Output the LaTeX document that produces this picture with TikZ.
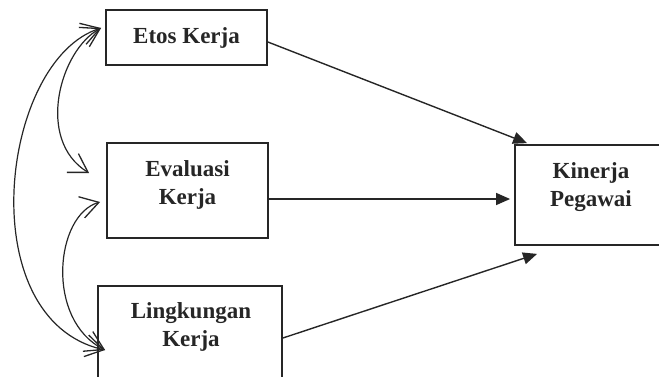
\documentclass[tikz,border=0pt]{standalone}
\usepackage{fontspec}
\setmainfont{Liberation Serif}
\usetikzlibrary{arrows.meta,calc}
\definecolor{linec}{HTML}{262626}
\tikzset{
  box/.style={draw=linec, line width=1.8pt, rectangle, inner sep=0pt},
  txt/.style={align=center, inner sep=0pt, font=\bfseries\fontsize{23}{27.6}\selectfont, text=linec},
  arr/.style={draw=linec, line width=1.4pt, -{Triangle[length=14pt,width=12pt]}},
  cov/.style={draw=linec, line width=1.2pt, {Straight Barb[length=18pt,width=22pt,line width=1.3pt]}-{Straight Barb[length=18pt,width=22pt,line width=1.3pt]}}
}
\begin{document}
\begin{tikzpicture}[x=1pt,y=-1pt]
\useasboundingbox (0,0) rectangle (659,376);
\clip (0,0) rectangle (659,376);
% boxes
\node[box, minimum width=161pt, minimum height=55pt] (etos) at (186.5,37.5) {};
\node[txt] (etost) at (186.5,38) {Etos Kerja};
\node[box, minimum width=161pt, minimum height=95pt] (eva) at (187.5,190.5) {};
\node[txt] (evat) at (187.5,185) {Evaluasi\\Kerja};
\node[box, minimum width=184pt, minimum height=120pt] (ling) at (190,346) {};
\node[txt] (lingt) at (191,327) {Lingkungan\\Kerja};
\node[box, minimum width=152pt, minimum height=100pt] (kin) at (591,195) {};
\node[txt] (kint) at (591,187) {Kinerja\\Pegawai};
% connector end points
\coordinate (e1) at ($(etos.west)+(-4,-9.5)$);
\coordinate (v1) at ($(eva.west)+(-17,-17.5)$);
\coordinate (v2) at ($(eva.west)+(-6,11.5)$);
\coordinate (l1) at ($(ling.west)+(8,4)$);
\coordinate (a1) at ($(etos.east)+(0,4.5)$);
\coordinate (a2) at ($(kin.north west)+(13,-1)$);
\coordinate (b1) at ($(eva.east)+(0,8.5)$);
\coordinate (b2) at ($(kin.west)+(-4,4)$);
\coordinate (c1) at ($(ling.east)+(0,-8)$);
\coordinate (c2) at ($(kin.south west)+(23,8)$);
% straight paths
\draw[arr] (a1) -- (a2);
\draw[arr] (b1) -- (b2);
\draw[arr] (c1) -- (c2);
% correlations
\draw[cov] (e1) .. controls (60,50) and (35,140) .. (v1);
\draw[cov] (e1) .. controls (0,60) and (-30,320) .. (l1);
\draw[cov] (v2) .. controls (55,215) and (45,320) .. (l1);
\end{tikzpicture}
\end{document}
